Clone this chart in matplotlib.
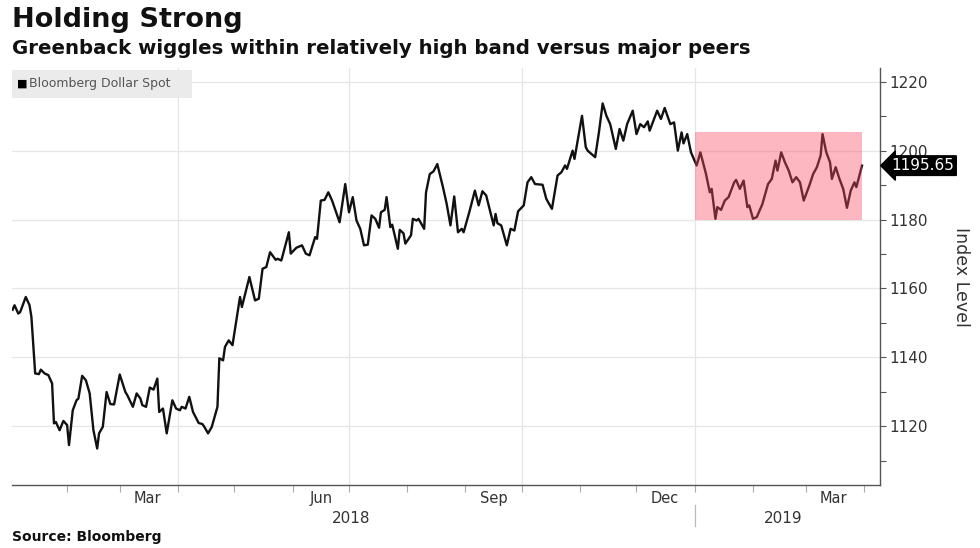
import numpy as np
import pandas as pd
import matplotlib
matplotlib.use("Agg")
import matplotlib.pyplot as plt
from matplotlib.patches import Rectangle
from matplotlib.lines import Line2D
from matplotlib.transforms import blended_transform_factory

# Bloomberg Dollar Spot index, days counted from 2018-01-01
days_since_2018 = [
    2, 3, 5, 6, 9, 11, 12, 14, 16, 17, 19, 21, 23, 24, 25, 27, 29, 31, 32, 34,
    36, 37, 39, 41, 43, 45, 47, 48, 50, 52, 54, 56, 59, 62, 63, 66, 68, 70, 71, 73,
    75, 77, 79, 80, 82, 84, 87, 89, 91, 92, 94, 96, 98, 101, 103, 104, 106, 108, 111, 112,
    114, 115, 117, 119, 123, 124, 128, 131, 133, 135, 137, 139, 142, 143, 145, 149, 150, 153, 156, 158,
    160, 163, 164, 166, 168, 170, 172, 176, 179, 181, 183, 185, 187, 189, 191, 193, 195, 197, 198, 200,
    201, 203, 204, 207, 208, 210, 211, 214, 215, 217, 218, 221, 222, 224, 226, 228, 231, 233, 235, 237,
    239, 241, 242, 245, 248, 250, 252, 254, 258, 259, 260, 262, 265, 267, 269, 271, 274, 276, 278, 280,
    284, 286, 287, 289, 292, 294, 296, 297, 300, 301, 303, 305, 307, 308, 312, 314, 316, 318, 320, 323,
    325, 327, 329, 332, 334, 336, 338, 340, 341, 345, 347, 349, 352, 354, 356, 358, 359, 361, 363, 366,
    368, 371, 373, 374, 376, 377, 379, 381, 383, 386, 387, 389, 391, 393, 394, 396, 398, 401, 404, 406,
    408, 409, 411, 413, 415, 417, 419, 421, 423, 426, 428, 430, 432, 433, 435, 437, 438, 440, 442, 444,
    446, 448, 450, 451, 454,
]
dollar_spot = [
    1153.8, 1155.1, 1152.7, 1153.1, 1157.5, 1155.1, 1151.7, 1135.3, 1135.1, 1136.4,
    1135.3, 1134.8, 1132.4, 1120.8, 1121.2, 1118.8, 1121.5, 1120.3, 1114.5, 1124.6,
    1127.5, 1128.0, 1134.6, 1133.3, 1129.5, 1118.8, 1113.5, 1117.9, 1119.8, 1129.9,
    1126.4, 1126.3, 1135.0, 1129.9, 1129.0, 1125.6, 1129.5, 1128.0, 1126.1, 1125.6,
    1131.2, 1130.6, 1133.8, 1124.1, 1125.1, 1117.9, 1127.5, 1125.1, 1124.6, 1125.6,
    1125.1, 1128.5, 1124.1, 1120.9, 1120.6, 1119.8, 1117.9, 1119.8, 1125.6, 1139.7,
    1139.1, 1143.0, 1144.9, 1143.5, 1157.5, 1154.6, 1163.3, 1156.5, 1157.0, 1165.7,
    1166.2, 1170.5, 1168.3, 1168.6, 1168.1, 1176.3, 1170.1, 1171.8, 1172.5, 1170.1,
    1169.6, 1174.9, 1174.4, 1185.5, 1185.7, 1187.9, 1185.5, 1179.2, 1190.3, 1182.1,
    1186.5, 1179.7, 1177.3, 1172.5, 1172.7, 1181.2, 1180.2, 1177.6, 1182.1, 1182.8,
    1186.5, 1177.8, 1178.5, 1171.5, 1177.0, 1176.0, 1173.0, 1175.4, 1180.2, 1179.7,
    1180.2, 1177.3, 1187.9, 1193.2, 1194.0, 1196.1, 1189.4, 1184.5, 1178.3, 1186.7,
    1176.3, 1177.3, 1176.3, 1182.1, 1188.4, 1184.1, 1188.2, 1187.0, 1178.3, 1181.6,
    1178.9, 1178.3, 1172.5, 1177.3, 1176.8, 1182.4, 1184.1, 1190.8, 1192.3, 1190.3,
    1190.1, 1186.0, 1185.0, 1183.1, 1192.8, 1193.7, 1195.7, 1194.7, 1200.0, 1197.6,
    1203.9, 1210.1, 1201.0, 1200.0, 1198.1, 1205.3, 1213.7, 1210.1, 1207.7, 1200.5,
    1206.3, 1202.9, 1207.7, 1211.6, 1204.8, 1207.7, 1206.8, 1208.5, 1205.8, 1211.6,
    1209.2, 1212.4, 1207.7, 1208.2, 1200.0, 1205.3, 1202.1, 1204.8, 1199.5, 1195.7,
    1199.5, 1193.2, 1187.9, 1188.9, 1180.2, 1183.6, 1182.8, 1185.5, 1186.5, 1190.8,
    1191.5, 1188.9, 1191.3, 1183.6, 1184.1, 1180.2, 1180.7, 1184.5, 1190.3, 1191.8,
    1197.1, 1194.2, 1199.5, 1196.6, 1194.2, 1190.8, 1192.3, 1190.8, 1185.5, 1189.9,
    1193.2, 1195.2, 1198.6, 1204.8, 1199.5, 1196.6, 1191.8, 1195.2, 1191.8, 1188.9,
    1183.4, 1188.4, 1190.8, 1189.4, 1195.65,
]
last_value_text = "1195.65"

# 2019 trading band highlighted in pink
band_start, band_end = "2019-01-01", "2019-03-31"
band_low, band_high = 1180.0, 1205.5

month_labels = ["Mar", "Jun", "Sep", "Dec", "Mar"]
month_label_dates = ["2018-03-16", "2018-06-16", "2018-09-16", "2018-12-16", "2019-03-16"]
year_labels = ["2018", "2019"]
year_label_dates = ["2018-07-02", "2019-02-17"]
y_ticks = [1120, 1140, 1160, 1180, 1200, 1220]

title = "Holding Strong"
subtitle = "Greenback wiggles within relatively high band versus major peers"
series_name = "Bloomberg Dollar Spot"
source = "Source: Bloomberg"

dates = pd.Timestamp("2018-01-01") + pd.to_timedelta(days_since_2018, unit="D")

plt.rcParams["font.family"] = ["DejaVu Sans"]
fig = plt.figure(figsize=(9.8, 5.48), dpi=100)
ax = fig.add_axes([12 / 980, 1 - 485 / 548, 868 / 980, 417 / 548])

grid_c = "#e6e6e6"
axis_c = "#555555"
text_c = "#333333"

ax.plot(dates, dollar_spot, color="#111111", lw=1.7, zorder=3, solid_joinstyle="round")

ax.add_patch(Rectangle((pd.Timestamp(band_start), band_low),
                       pd.Timestamp(band_end) - pd.Timestamp(band_start),
                       band_high - band_low,
                       facecolor=(250 / 255, 75 / 255, 100 / 255), alpha=0.4,
                       edgecolor="none", zorder=4))

ax.set_xlim(pd.Timestamp("2018-01-02 16:00"), pd.Timestamp("2019-04-09 14:00"))
ax.set_ylim(1102.9, 1224.0)

# horizontal and quarterly vertical gridlines
for v in y_ticks:
    ax.axhline(v, color=grid_c, lw=0.9, zorder=1)
for q in ["2018-04-01", "2018-07-01", "2018-10-01", "2019-01-01"]:
    ax.axvline(pd.Timestamp(q), color=grid_c, lw=0.9, zorder=1)

for s in ["top", "left"]:
    ax.spines[s].set_visible(False)
for s in ["bottom", "right"]:
    ax.spines[s].set_color(axis_c)
    ax.spines[s].set_linewidth(1.0)

# month ticks on the x-axis, labels centred mid-month
month_starts = pd.date_range("2018-02-01", "2019-04-01", freq="MS")
ax.set_xticks(month_starts)
ax.set_xticklabels([])
ax.tick_params(axis="x", which="major", length=5, color="#aaaaaa", width=0.8)
ax.set_xticks(pd.to_datetime(month_label_dates), minor=True)
ax.set_xticklabels(month_labels, minor=True)
ax.tick_params(axis="x", which="minor", length=0, pad=4, labelsize=10.5, labelcolor=text_c)

# value axis on the right
ax.yaxis.tick_right()
ax.yaxis.set_label_position("right")
ax.set_yticks(y_ticks)
ax.set_yticks(np.arange(1110, 1225, 10), minor=True)
ax.set_yticklabels([str(v) for v in y_ticks])
ax.tick_params(axis="y", which="both", length=4, color=axis_c, width=0.8,
               labelsize=11, labelcolor=text_c, pad=3)
ax.set_ylabel("Index Level", rotation=270, fontsize=12.5, color=text_c, labelpad=30)

# year labels and the divider between years
trans = blended_transform_factory(ax.transData, ax.transAxes)
for lab, d in zip(year_labels, year_label_dates):
    ax.text(pd.Timestamp(d), -0.08, lab, transform=trans, ha="center", va="center",
            fontsize=11, color=text_c)
ax.add_line(Line2D([pd.Timestamp("2019-01-01")] * 2, [-0.048, -0.098], transform=trans,
                   color="#bbbbbb", lw=0.9, clip_on=False))

# last value tag
ax.annotate(last_value_text, xy=(1.0, dollar_spot[-1]),
            xycoords=("axes fraction", "data"), xytext=(8, 0), textcoords="offset points",
            ha="left", va="center", fontsize=11, color="white",
            bbox=dict(boxstyle="larrow,pad=0.15", fc="black", ec="black"),
            zorder=6, annotation_clip=False)

# series key in the top-left corner
fig.patches.append(Rectangle((12 / 980, 1 - 98 / 548), 180 / 980, 28 / 548,
                             transform=fig.transFigure, facecolor="#ebebeb",
                             edgecolor="none", zorder=5))
fig.text(17 / 980, 1 - 84 / 548, "\u25a0", fontsize=8, color="black", va="center", zorder=6)
fig.text(29 / 980, 1 - 84 / 548, series_name, fontsize=9, color="#555555",
         va="center", zorder=6)

fig.text(12 / 980, 1 - 20 / 548, title, fontsize=19.5, fontweight="bold", va="center",
         color="#111111")
fig.text(12 / 980, 1 - 48 / 548, subtitle, fontsize=14.2, fontweight="bold", va="center",
         color="#111111")
fig.text(12 / 980, 1 - 537 / 548, source, fontsize=10, fontweight="bold", va="center",
         color="#111111")

fig.savefig("out.png", dpi=100)
